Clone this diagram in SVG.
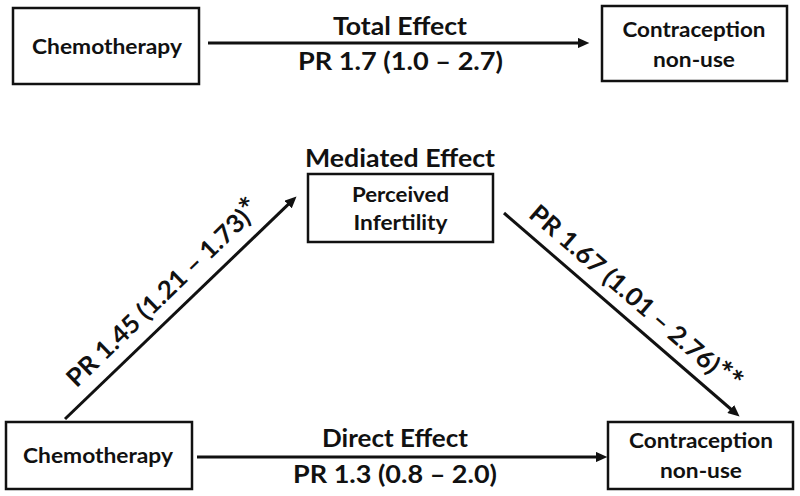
<svg xmlns="http://www.w3.org/2000/svg" width="800" height="496" viewBox="0 0 800 496">
<defs>
<style>
.box{fill:#fff;stroke:#111;stroke-width:2.5}
.nt{font-family:Lato,"Liberation Sans",sans-serif;font-weight:bold;font-size:21.5px;fill:#111;text-anchor:middle}
.lt{font-family:Lato,"Liberation Sans",sans-serif;font-weight:bold;font-size:25px;fill:#111;text-anchor:middle}
.ast{font-size:31px}
.edge{fill:none;stroke:#111;stroke-width:3}
</style>
<marker id="ah" viewBox="0 0 10 9" markerWidth="12" markerHeight="10.5" refX="2" refY="4.5" orient="auto" markerUnits="userSpaceOnUse">
<path d="M0,0 L10,4.5 L0,9 z" fill="#111"/>
</marker>
</defs>
<rect width="800" height="496" fill="#fff"/>
<g id="connectors">
<line class="edge" x1="208" y1="43" x2="580" y2="43" marker-end="url(#ah)"/>
<line class="edge" x1="197" y1="457" x2="598" y2="457" marker-end="url(#ah)"/>
<line class="edge" x1="65" y1="419" x2="289.8" y2="202.9" marker-end="url(#ah)"/>
<line class="edge" x1="504" y1="213" x2="732.5" y2="410.5" marker-end="url(#ah)"/>
<text class="lt" x="400" y="35" textLength="134" lengthAdjust="spacingAndGlyphs">Total Effect</text>
<text class="lt" x="400.5" y="70" textLength="205" lengthAdjust="spacingAndGlyphs">PR 1.7 (1.0 – 2.7)</text>
<text class="lt" x="395" y="447" textLength="146" lengthAdjust="spacingAndGlyphs">Direct Effect</text>
<text class="lt" x="395" y="483" textLength="204" lengthAdjust="spacingAndGlyphs">PR 1.3 (0.8 – 2.0)</text>
<text class="lt" x="400" y="167" textLength="190" lengthAdjust="spacingAndGlyphs">Mediated Effect</text>
<text class="lt" transform="translate(169.2,299.4) rotate(-43.9)" textLength="257" lengthAdjust="spacingAndGlyphs">PR 1.45 (1.21 – 1.73)<tspan class="ast">*</tspan></text>
<text class="lt" transform="translate(629.5,304.7) rotate(41)" textLength="270" lengthAdjust="spacingAndGlyphs">PR 1.67 (1.01 – 2.76)<tspan class="ast">**</tspan></text>
</g>
<g id="chemo-top">
<rect class="box" x="13" y="8" width="186" height="76"/>
<text class="nt" x="107" y="54" textLength="150" lengthAdjust="spacingAndGlyphs">Chemotherapy</text>
</g>
<g id="contra-top">
<rect class="box" x="602" y="6" width="185" height="75"/>
<text class="nt" x="694" y="37" textLength="143" lengthAdjust="spacingAndGlyphs">Contraception</text>
<text class="nt" x="694" y="67" textLength="82" lengthAdjust="spacingAndGlyphs">non-use</text>
</g>
<g id="infertility">
<rect class="box" x="308" y="174" width="185" height="68"/>
<text class="nt" x="400.5" y="202" textLength="97" lengthAdjust="spacingAndGlyphs">Perceived</text>
<text class="nt" x="400.5" y="230" textLength="94" lengthAdjust="spacingAndGlyphs">Infertility</text>
</g>
<g id="chemo-bottom">
<rect class="box" x="6" y="422" width="186" height="67"/>
<text class="nt" x="98" y="463" textLength="150" lengthAdjust="spacingAndGlyphs">Chemotherapy</text>
</g>
<g id="contra-bottom">
<rect class="box" x="608" y="422" width="185" height="67"/>
<text class="nt" x="701" y="448" textLength="144" lengthAdjust="spacingAndGlyphs">Contraception</text>
<text class="nt" x="701" y="478" textLength="82" lengthAdjust="spacingAndGlyphs">non-use</text>
</g>
</svg>
